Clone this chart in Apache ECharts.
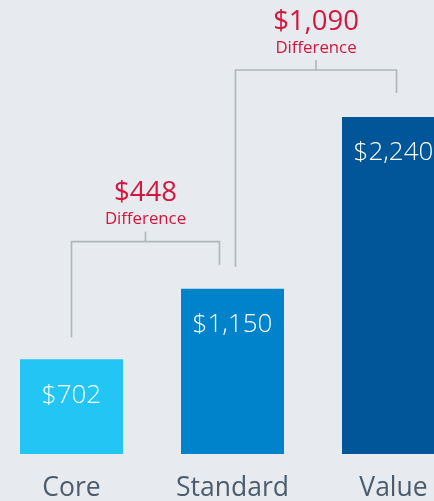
<!DOCTYPE html>
<html><head><meta charset="utf-8">
<script src="https://cdn.jsdelivr.net/npm/echarts@6/dist/echarts.min.js"></script>
<style>html,body{margin:0;padding:0;background:#e7ebef;}#c{width:434px;height:501px;}</style>
</head><body><div id="c"></div>
<script>
const categories = ['Core', 'Standard', 'Value'];
const prices = [702, 1150, 2240];
const barColors = ['#22c5f3', '#0083cb', '#005698'];
const differences = [448, 1090];
const bracketPairs = [[0, 1], [1, 2]];

const FONT = '"Open Sans", "Noto Sans", sans-serif';
const RED = '#d4163c';
const GRAY = '#b0b5ba';
const legShift = [[0, -13], [3, 3]];

function fmt(v) { return '$' + v.toLocaleString('en-US'); }

const bracketData = bracketPairs.map((p, i) => [p[0], p[1], prices[p[0]], prices[p[1]], differences[i], i]);

const chart = echarts.init(document.getElementById('c'), null, { renderer: 'canvas' });
chart.setOption({
  backgroundColor: '#e7ebef',
  animation: false,
  grid: { left: -9, width: 483, top: 117, bottom: 47, outerBoundsMode: 'none', containLabel: false },
  xAxis: {
    type: 'category', data: categories,
    axisLine: { show: false }, axisTick: { show: false },
    axisLabel: { color: '#4b5c6c', fontSize: 26.5, fontFamily: FONT, margin: 21, interval: 0 }
  },
  yAxis: { type: 'value', min: 100, max: 2240, show: false, splitLine: { show: false } },
  series: [
    {
      type: 'bar', barWidth: 103,
      data: prices.map((v, i) => ({ value: v, itemStyle: { color: barColors[i] } })),
      label: {
        show: true, position: 'insideTop', distance: 23,
        color: '#ffffff', fontSize: 26, fontWeight: 300, fontFamily: FONT,
        formatter: p => fmt(p.value)
      }
    },
    {
      type: 'custom', clip: false, silent: true,
      data: bracketData,
      renderItem: function (params, api) {
        const i0 = api.value(0), i1 = api.value(1);
        const v0 = api.value(2), v1 = api.value(3);
        const diff = api.value(4), k = api.value(5);
        const a = api.coord([i0, v0]);
        const b = api.coord([i1, v1]);
        const xL = a[0] + legShift[k][0];
        const xR = b[0] + legShift[k][1];
        const yH = b[1] - 47;
        const yLb = a[1] - 22;
        const yRb = b[1] - 24;
        const mid = (xL + xR) / 2;
        const tickTop = yH - 10;
        return {
          type: 'group',
          children: [
            { type: 'polyline', shape: { points: [[xL, yLb], [xL, yH], [xR, yH], [xR, yRb]] },
              style: { stroke: GRAY, lineWidth: 1.6, fill: null } },
            { type: 'line', shape: { x1: mid, y1: yH, x2: mid, y2: tickTop },
              style: { stroke: GRAY, lineWidth: 1.6 } },
            { type: 'text', x: mid, y: tickTop - 12,
              style: { text: 'Difference', fill: RED, font: '16.8px ' + FONT, align: 'center', verticalAlign: 'middle' } },
            { type: 'text', x: mid, y: tickTop - 38,
              style: { text: fmt(diff), fill: RED, font: '27.5px ' + FONT, align: 'center', verticalAlign: 'middle' } }
          ]
        };
      }
    }
  ]
});
</script></body></html>
